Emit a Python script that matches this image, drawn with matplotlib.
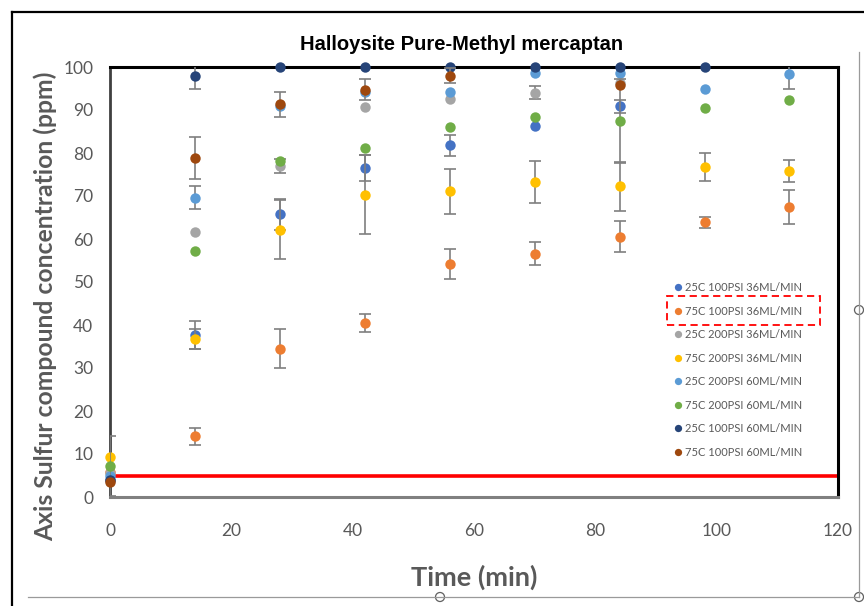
import matplotlib
matplotlib.use("Agg")
import matplotlib.pyplot as plt
from matplotlib.patches import Rectangle, Ellipse
from matplotlib.lines import Line2D

# ── data ─────────────────────────────────────────────────────────────────
T_ALL = [0, 14, 28, 42, 56, 70, 84, 98, 112]

LABELS = [
    "25C 100PSI 36ML/MIN",
    "75C 100PSI 36ML/MIN",
    "25C 200PSI 36ML/MIN",
    "75C 200PSI 36ML/MIN",
    "25C 200PSI 60ML/MIN",
    "75C 200PSI 60ML/MIN",
    "25C 100PSI 60ML/MIN",
    "75C 100PSI 60ML/MIN",
]
COLORS = ["#4472C4", "#ED7D31", "#A5A5A5", "#FFC000",
          "#5B9BD5", "#70AD47", "#264478", "#9E480E"]

t_blue = [0, 14, 28, 42, 56, 70, 84]
v_blue = [4.0, 37.7, 65.7, 76.5, 81.8, 86.2, 90.9]
e_blue = [0, 3.3, 3.5, 3.1, 2.4, 0, 1.5]

t_orange = T_ALL
v_orange = [5.8, 14.1, 34.5, 40.4, 54.2, 56.6, 60.5, 63.9, 67.4]
e_orange = [0, 2.0, 4.5, 2.1, 3.4, 2.6, 3.6, 1.3, 3.9]

t_grey = [0, 14, 28, 42, 56, 70, 84]
v_grey = [5.5, 61.7, 77.0, 90.6, 92.6, 94.0, 96.3]
e_grey = [0, 0, 1.6, 0, 0, 1.5, 0]

t_yellow = T_ALL
v_yellow = [9.4, 36.7, 62.2, 70.3, 71.1, 73.3, 72.3, 76.7, 75.8]
e_yellow = [0, 2.3, 6.8, 9.2, 5.2, 4.9, 5.7, 3.2, 2.5]

t_lblue = T_ALL
v_lblue = [5.0, 69.6, 91.0, 94.1, 94.2, 98.6, 98.5, 95.0, 98.3]
e_lblue = [0, 2.7, 0, 0, 0, 0, 0, 0, 3.3]

t_green = T_ALL
v_green = [7.2, 57.2, 78.2, 81.2, 86.0, 88.4, 87.5, 90.5, 92.4]
e_green = [7.0, 0, 0, 0, 0, 0, 9.8, 0, 0]

t_navy = [0, 14, 28, 42, 56, 70, 84, 98]
v_navy = [4.0, 97.9, 100, 100, 100, 100, 100, 100]
e_navy = [0, 3.1, 0, 0, 0, 0, 0, 0]

t_brown = [0, 14, 28, 42, 56, 84]
v_brown = [3.5, 78.9, 91.3, 94.7, 98.0, 95.8]
e_brown = [0, 4.9, 2.9, 2.4, 1.8, 0]

SERIES = [
    (t_blue, v_blue, e_blue),
    (t_orange, v_orange, e_orange),
    (t_grey, v_grey, e_grey),
    (t_yellow, v_yellow, e_yellow),
    (t_lblue, v_lblue, e_lblue),
    (t_green, v_green, e_green),
    (t_navy, v_navy, e_navy),
    (t_brown, v_brown, e_brown),
]

LIMIT = 5  # red reference line, ppm

TEXT_GREY = "#595959"
FONT = ["Lato", "DejaVu Sans"]

# ── figure ───────────────────────────────────────────────────────────────
fig = plt.figure(figsize=(8.64, 6.06), dpi=100)
W, H = 864, 606
ax = fig.add_axes([110 / W, 1 - 497 / H, 728 / W, 430 / H])

for i, ((t, v, e), col, lab) in enumerate(zip(SERIES, COLORS, LABELS)):
    te = [a for a, b in zip(t, e) if b > 0]
    ve = [a for a, b in zip(v, e) if b > 0]
    ee = [b for b in e if b > 0]
    if te:
        ax.errorbar(te, ve, yerr=ee, fmt="none", ecolor="#7F7F7F",
                    elinewidth=1.2, capsize=4, capthick=1.2,
                    zorder=3 + 2 * i)
    ax.plot(t, v, "o", color=col, markersize=7.5, markeredgewidth=0,
            label=lab, zorder=4 + 2 * i, clip_on=False)

ax.axhline(LIMIT, color="#FF0000", lw=2.6, zorder=2)

ax.set_xlim(0, 120)
ax.set_ylim(0, 100)
ax.set_xticks(range(0, 121, 20))
ax.set_yticks(range(0, 101, 10))
ax.tick_params(length=0, labelsize=12.5, labelcolor=TEXT_GREY)
ax.tick_params(axis="x", pad=19)
ax.tick_params(axis="y", pad=12)
for lbl in ax.get_xticklabels() + ax.get_yticklabels():
    lbl.set_family(FONT)

for side in ("top", "right"):
    ax.spines[side].set_color("black")
    ax.spines[side].set_linewidth(2.2)
ax.spines["left"].set_color("#404040")
ax.spines["left"].set_linewidth(2.0)
ax.spines["bottom"].set_color("#808080")
ax.spines["bottom"].set_linewidth(2.2)

ax.set_xlabel("Time (min)", fontsize=19.5, fontweight="bold",
              color=TEXT_GREY, family=FONT, labelpad=18)
ax.set_ylabel("Axis Sulfur compound concentration (ppm)", fontsize=17.8,
              fontweight="bold", color=TEXT_GREY, family=FONT)
ax.yaxis.set_label_coords(-0.0728, 0.444)
fig.text(462 / W, 1 - 45 / H, "Halloysite Pure-Methyl mercaptan",
         ha="center", va="center", fontsize=14.5, fontweight="bold",
         family=["Liberation Sans", "DejaVu Sans"], color="black")

leg = ax.legend(loc="upper left", bbox_to_anchor=(675 / W, 1 - 282 / H),
                bbox_transform=fig.transFigure, frameon=False,
                prop={"family": FONT, "size": 8}, markerscale=0.7,
                handlelength=0.6, handletextpad=0.3, labelspacing=1.13,
                borderpad=0, borderaxespad=0)
for txt in leg.get_texts():
    txt.set_color(TEXT_GREY)

# dashed highlight round the second legend entry
fig.patches.append(Rectangle((667 / W, 1 - 325 / H), 153 / W, 29 / H,
                             transform=fig.transFigure, fill=False,
                             edgecolor="#FF0000", lw=1.3, ls=(0, (4, 2.5))))

# slide frame and selection outline
fig.lines.append(Line2D([12 / W, 1], [1 - 12 / H] * 2, transform=fig.transFigure,
                        color="black", lw=1.6))
fig.lines.append(Line2D([12 / W] * 2, [0, 1 - 12 / H], transform=fig.transFigure,
                        color="black", lw=1.6))
fig.lines.append(Line2D([859 / W] * 2, [1 - 597 / H, 1 - 52 / H],
                        transform=fig.transFigure, color="#9A9A9A", lw=0.9))
fig.lines.append(Line2D([28 / W, 859 / W], [1 - 597 / H] * 2,
                        transform=fig.transFigure, color="#9A9A9A", lw=0.9))
for cx, cy in [(859, 310), (440, 597), (859, 597)]:
    fig.patches.append(Ellipse((cx / W, 1 - cy / H), 9 / W, 9 / H,
                               transform=fig.transFigure, facecolor="white",
                               edgecolor="#606060", lw=0.9))

fig.savefig("out.png", dpi=100)
plt.close("all")
